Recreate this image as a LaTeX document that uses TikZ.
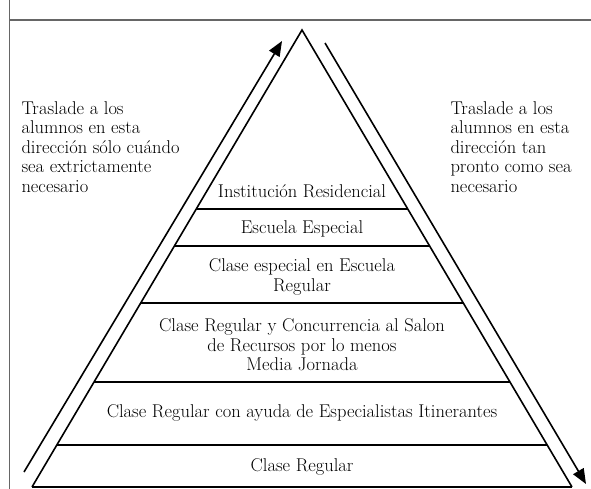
\documentclass[tikz,border=0pt]{standalone}
\usepackage{amsmath,amssymb}
\usetikzlibrary{calc,arrows.meta}

\tikzset{
  level/.style = {align=center, font=\fontsize{18.5}{19.5}\selectfont},
  note/.style = {align=left, anchor=west, font=\fontsize{18.5}{19.5}\selectfont},
  move/.style = {line width=1.6pt, -{Triangle[length=15pt,width=12pt]}}
}

\begin{document}
\begin{tikzpicture}[x=1pt, y=-1pt]
        \useasboundingbox (0,0) rectangle (591,489);
        % frame
        \draw [line width=1.2pt, black!60] (9.5,0) -- (9.5,489);
        \draw [line width=1.2pt, black!60] (9.5,20) -- (591,20);
        % pyramid
        \coordinate (top) at (302,30);
        \coordinate (bl) at (32,487);
        \coordinate (br) at (572,487);
        \draw [line width=1.6pt, line join=miter] (bl) -- (top) -- (br);
        \draw [line width=2.2pt] (bl) -- (br);
        \foreach \y in {209,246,303,382,445}
          \draw [line width=2.2pt] ($(top)!{(\y-30)/457}!(bl)$) -- ($(top)!{(\y-30)/457}!(br)$);
        % arrows
        \coordinate (upfrom) at (24,472);
        \coordinate (upto) at (282,41);
        \coordinate (downfrom) at (325,43);
        \coordinate (downto) at (586,484);
        \draw [move] (upfrom) -- (upto);
        \draw [move] (downfrom) -- (downto);
        % levels
        \node [level] (resid) at (302,191) {Institución Residencial};
        \node [level] (espec) at (302,229) {Escuela Especial};
        \node [level] (claseesp) at (302,277) {Clase especial en Escuela\\Regular};
        \node [level] (recursos) at (302,345) {Clase Regular y Concurrencia al Salon\\de Recursos por lo menos\\Media Jornada};
        \node [level] (itiner) at (302,413) {Clase Regular con ayuda de Especialistas Itinerantes};
        \node [level] (regular) at (302,467) {Clase Regular};
        % notes
        \node [note] (noteup) at (18,147) {Traslade a los\\alumnos en esta\\dirección sólo cuándo\\sea extrictamente\\necesario};
        \node [note] (notedown) at (447,147) {Traslade a los\\alumnos en esta\\dirección tan\\pronto como sea\\necesario};
      \end{tikzpicture}
\end{document}
